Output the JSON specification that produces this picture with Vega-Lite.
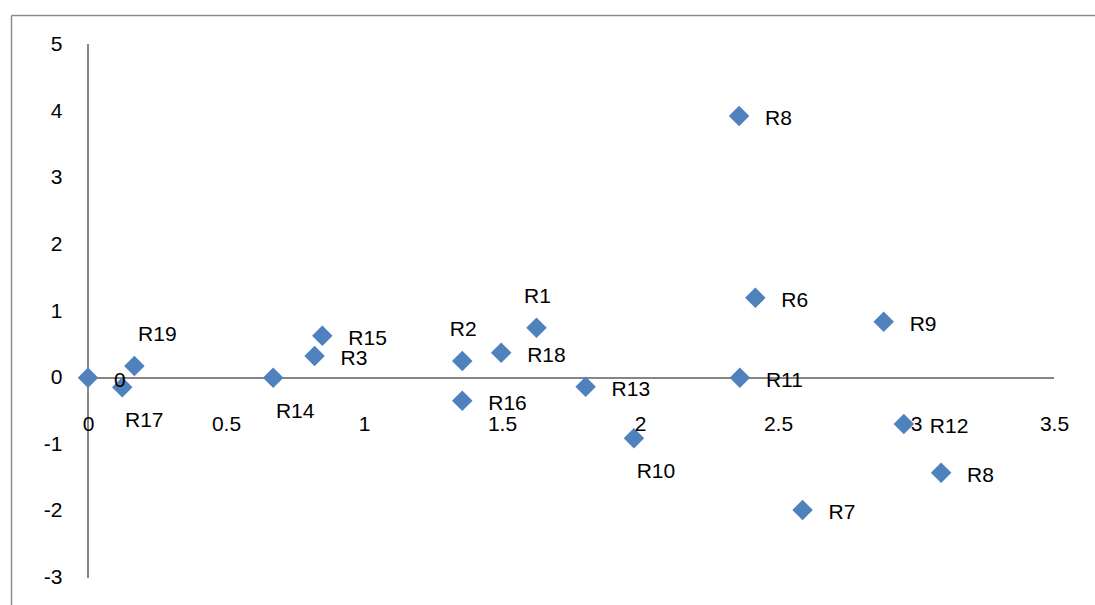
{
  "$schema": "https://vega.github.io/schema/vega-lite/v6.json",
  "width": 1084,
  "height": 590,
  "padding": {"left": 11, "top": 15, "right": 0, "bottom": 0},
  "autosize": {"type": "none"},
  "background": "white",
  "config": {
    "view": {"stroke": null},
    "font": "Liberation Sans"
  },
  "data": {
    "values": [
      {"label": "0", "x": 0, "y": 0, "pos": "right"},
      {"label": "R17", "x": 0.124, "y": -0.144, "pos": "belowright"},
      {"label": "R19", "x": 0.168, "y": 0.176, "pos": "aboveright"},
      {"label": "R14", "x": 0.671, "y": 0, "pos": "belowright"},
      {"label": "R3", "x": 0.821, "y": 0.326, "pos": "right"},
      {"label": "R15", "x": 0.849, "y": 0.631, "pos": "right"},
      {"label": "R2", "x": 1.356, "y": 0.251, "pos": "above"},
      {"label": "R16", "x": 1.356, "y": -0.345, "pos": "right"},
      {"label": "R18", "x": 1.497, "y": 0.375, "pos": "right"},
      {"label": "R1", "x": 1.625, "y": 0.751, "pos": "above"},
      {"label": "R13", "x": 1.803, "y": -0.135, "pos": "right"},
      {"label": "R10", "x": 1.978, "y": -0.91, "pos": "belowright"},
      {"label": "R8", "x": 2.359, "y": 3.93, "pos": "right"},
      {"label": "R6", "x": 2.418, "y": 1.2, "pos": "right"},
      {"label": "R11", "x": 2.362, "y": 0, "pos": "right"},
      {"label": "R9", "x": 2.883, "y": 0.84, "pos": "right"},
      {"label": "R12", "x": 2.956, "y": -0.695, "pos": "right"},
      {"label": "R8", "x": 3.091, "y": -1.426, "pos": "right"},
      {"label": "R7", "x": 2.589, "y": -1.986, "pos": "right"}
    ]
  },
  "encoding": {
    "x": {
      "field": "x", "type": "quantitative",
      "scale": {"domain": [-0.279, 3.6486], "nice": false, "zero": false},
      "axis": {
        "orient": "top", "offset": 0, "values": [0, 0.5, 1, 1.5, 2, 2.5, 3, 3.5],
        "labelExpr": "'' + datum.value", "domain": true, "domainColor": "#8c8c8c", "domainWidth": 1.5,
        "ticks": false, "tickSize": 0, "grid": false,
        "labelBaseline": "top", "labelPadding": -398.5, "labelFontSize": 21, "labelColor": "#000000", "labelFont": "Liberation Sans",
        "labelFlush": false, "labelOverlap": false, "title": null, "zindex": 1
      }
    },
    "y": {
      "field": "y", "type": "quantitative",
      "scale": {"domain": [-3.413, 5.446], "nice": false, "zero": false},
      "axis": {
        "orient": "left", "offset": 0, "values": [-3, -2, -1, 0, 1, 2, 3, 4, 5],
        "labelExpr": "'' + datum.value", "domain": true, "domainColor": "#8c8c8c", "domainWidth": 1.5,
        "ticks": false, "tickSize": 0, "grid": false,
        "labelAlign": "right", "labelBaseline": "middle", "labelPadding": -51, "labelFontSize": 21, "labelColor": "#000000", "labelFont": "Liberation Sans",
        "labelFlush": false, "labelOverlap": false, "title": null
      }
    }
  },
  "layer": [
    {
      "mark": {"type": "rule", "color": "#868686", "strokeWidth": 1.5},
      "encoding": {
        "x": {"datum": 0, "type": "quantitative"},
        "y": {"datum": -3, "type": "quantitative"},
        "y2": {"datum": 5}
      }
    },
    {
      "mark": {"type": "rule", "color": "#868686", "strokeWidth": 1.5},
      "encoding": {
        "y": {"datum": 0, "type": "quantitative"},
        "x": {"datum": 0, "type": "quantitative"},
        "x2": {"datum": 3.5}
      }
    },
    {
      "mark": {"type": "point", "shape": "diamond", "filled": true, "size": 420, "color": "#4F81BD", "opacity": 1}
    },
    {
      "transform": [{"filter": "datum.pos === 'right'"}],
      "mark": {"type": "text", "align": "left", "baseline": "middle", "dx": 26, "dy": 3, "fontSize": 21, "color": "#000000", "font": "Liberation Sans"},
      "encoding": {"text": {"field": "label"}}
    },
    {
      "transform": [{"filter": "datum.pos === 'above'"}],
      "mark": {"type": "text", "align": "center", "baseline": "middle", "dx": 1, "dy": -31, "fontSize": 21, "color": "#000000", "font": "Liberation Sans"},
      "encoding": {"text": {"field": "label"}}
    },
    {
      "transform": [{"filter": "datum.pos === 'aboveright'"}],
      "mark": {"type": "text", "align": "center", "baseline": "middle", "dx": 23, "dy": -31, "fontSize": 21, "color": "#000000", "font": "Liberation Sans"},
      "encoding": {"text": {"field": "label"}}
    },
    {
      "transform": [{"filter": "datum.pos === 'belowright'"}],
      "mark": {"type": "text", "align": "center", "baseline": "middle", "dx": 22, "dy": 34, "fontSize": 21, "color": "#000000", "font": "Liberation Sans"},
      "encoding": {"text": {"field": "label"}}
    }
  ]
}
